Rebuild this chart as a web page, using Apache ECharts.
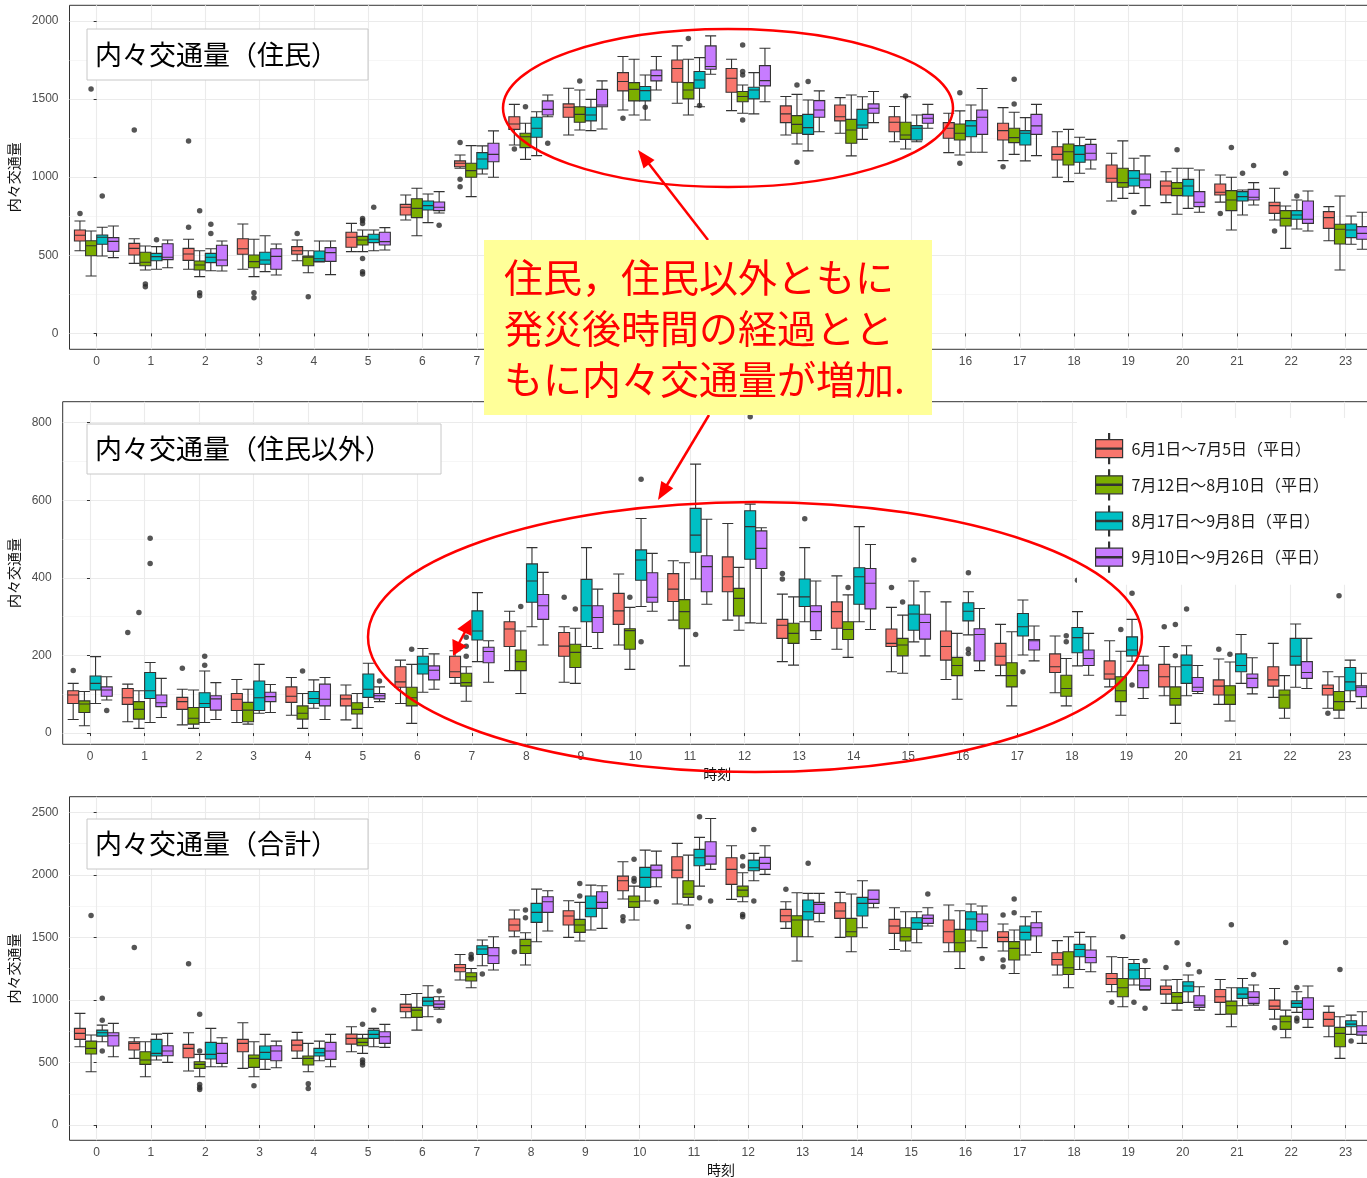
<!DOCTYPE html>
<html>
<head>
<meta charset="utf-8">
<script src="https://cdn.jsdelivr.net/npm/echarts/dist/echarts.min.js"></script>
<style>
html, body { margin: 0; padding: 0; background: #fff; }
#chart { width: 1367px; height: 1178px; }
</style>
</head>
<body>
<div id="chart"></div>
<script>
// 時刻別 内々交通量 の箱ひげ図（住民 / 住民以外 / 合計）

const hours = ['0','1','2','3','4','5','6','7','8','9','10','11','12','13','14','15','16','17','18','19','20','21','22','23'];
const groupNames = ['6月1日～7月5日（平日）', '7月12日～8月10日（平日）', '8月17日～9月8日（平日）', '9月10日～9月26日（平日）'];
const groupColors = ['#F8766D', '#7CAE00', '#00BFC4', '#C77CFF'];

// [min, Q1, median, Q3, max] per hour
const juminA = [[529,591,628,662,719],[448,502,544,576,606],[410,467,508,544,602],[410,506,542,606,700],[465,506,529,555,598],[523,551,615,647,704],[726,758,807,826,886],[1057,1067,1089,1104,1142],[1206,1306,1340,1387,1466],[1270,1383,1447,1469,1569],[1430,1552,1612,1669,1772],[1473,1607,1695,1750,1840],[1426,1543,1633,1695,1755],[1270,1349,1405,1456,1516],[1281,1360,1387,1462,1509],[1227,1291,1351,1387,1452],[1157,1249,1313,1349,1409],[1106,1238,1298,1345,1445],[999,1110,1146,1195,1291],[847,967,993,1078,1153],[837,886,943,975,1035],[840,886,903,956,1014],[726,768,818,839,929],[593,672,741,779,811]];
const juminB = [[367,497,561,593,655],[406,433,455,519,559],[363,406,438,463,529],[363,420,459,502,602],[388,433,487,495,529],[523,566,598,621,662],[625,741,800,862,929],[875,999,1042,1089,1202],[1114,1189,1259,1281,1345],[1302,1351,1402,1451,1558],[1398,1488,1562,1605,1755],[1398,1501,1558,1605,1755],[1409,1483,1516,1548,1590],[1212,1281,1338,1394,1530],[1136,1217,1302,1370,1526],[1180,1242,1270,1351,1515],[1142,1238,1281,1340,1424],[1146,1221,1253,1313,1415],[971,1078,1163,1212,1306],[864,935,965,1057,1232],[762,882,928,965,1057],[662,786,854,914,999],[544,687,736,786,815],[406,572,666,698,879]];
const juminC = [[495,570,615,630,679],[410,465,491,512,555],[401,453,487,512,542],[395,442,470,519,625],[457,461,478,527,591],[529,581,602,634,662],[709,790,818,847,892],[1020,1052,1116,1157,1200],[1138,1255,1313,1383,1419],[1298,1360,1398,1447,1498],[1366,1488,1554,1580,1654],[1451,1569,1622,1676,1765],[1405,1501,1558,1575,1669],[1168,1274,1317,1402,1494],[1242,1313,1334,1434,1515],[1227,1238,1313,1330,1398],[1159,1259,1328,1362,1462],[1104,1206,1281,1298,1381],[1025,1095,1146,1202,1255],[896,943,993,1042,1121],[800,879,943,986,1057],[758,847,875,907,918],[668,730,758,786,854],[570,613,662,700,751]];
const juminD = [[485,525,589,613,687],[420,472,487,574,598],[399,433,470,564,591],[374,410,493,542,572],[376,461,517,549,591],[534,566,587,647,677],[770,786,807,841,907],[999,1099,1146,1217,1296],[1387,1398,1434,1488,1526],[1308,1451,1462,1562,1616],[1558,1616,1650,1686,1772],[1659,1691,1708,1840,1904],[1483,1584,1618,1714,1825],[1291,1383,1430,1490,1552],[1349,1409,1441,1469,1548],[1313,1345,1377,1402,1466],[1159,1274,1383,1430,1567],[1138,1274,1328,1402,1466],[1052,1110,1153,1210,1242],[818,933,982,1020,1136],[775,811,839,907,1046],[822,854,871,922,965],[655,704,730,847,911],[538,602,640,683,775]];
// [hour, group, value]
const juminOut = [[0,0,768],[0,1,1565],[0,2,879],[1,0,1302],[1,1,316],[1,1,299],[1,2,600],[2,0,679],[2,0,1232],[2,1,785],[2,1,260],[2,1,241],[2,2,698],[2,2,640],[3,1,260],[3,1,228],[4,0,640],[4,1,235],[5,1,736],[5,1,722],[5,1,704],[5,1,480],[5,1,395],[5,1,380],[5,2,807],[6,3,692],[7,0,1221],[7,0,986],[7,0,939],[8,0,1180],[8,1,1451],[8,3,1217],[9,1,1616],[10,0,1377],[10,2,1447],[11,1,1887],[11,2,1458],[12,1,1846],[12,1,1676],[12,1,1654],[12,1,1366],[13,1,1590],[13,1,1095],[13,2,1612],[15,1,1520],[16,1,1541],[16,1,1089],[17,0,1067],[17,1,1626],[17,1,1469],[19,2,775],[20,1,1176],[21,0,768],[21,1,1189],[21,2,1025],[21,3,1074],[22,0,655],[22,1,1025],[22,2,879]];

const igaiA = [[35,76,98,109,128],[29,74,91,115,126],[21,61,81,92,113],[27,58,87,102,138],[46,79,95,119,143],[34,70,88,98,124],[76,118,132,171,188],[128,143,158,198,212],[161,223,268,287,314],[131,198,224,259,274],[227,280,315,360,410],[291,339,371,411,444],[291,364,403,454,540],[184,244,278,293,358],[216,270,313,338,405],[158,223,231,268,324],[138,188,223,263,338],[148,175,198,231,280],[104,156,171,204,250],[119,139,152,186,238],[96,119,145,177,223],[74,98,121,137,191],[92,121,137,171,231],[64,98,115,124,158]];
const igaiB = [[19,53,75,83,107],[12,36,61,81,109],[12,23,38,66,111],[23,29,59,79,113],[12,36,51,70,102],[12,49,61,78,102],[25,70,91,118,177],[82,121,130,154,171],[102,161,184,214,263],[128,169,208,229,270],[164,216,264,269,324],[173,269,313,344,439],[265,302,347,373,427],[175,231,257,283,351],[195,241,267,287,356],[154,199,227,244,304],[87,148,174,195,257],[70,119,148,181,261],[70,95,115,149,192],[46,81,109,145,211],[25,72,89,119,171],[31,74,98,122,183],[38,64,98,111,148],[38,59,81,107,145]];
const igaiC = [[76,111,128,147,197],[27,89,109,156,182],[27,66,76,104,160],[51,58,91,134,177],[64,76,89,107,137],[66,92,113,152,180],[105,152,178,198,218],[184,240,263,315,362],[274,337,392,436,478],[223,287,328,396,478],[326,394,446,472,553],[397,466,510,579,693],[284,448,532,573,590],[287,326,351,397,478],[287,332,403,426,532],[235,265,307,330,392],[253,289,314,336,364],[201,250,274,308,343],[173,207,246,272,313],[185,199,214,248,293],[96,128,175,201,225],[128,158,174,204,254],[118,175,198,244,281],[81,109,132,169,188]];
const igaiD = [[85,95,111,119,145],[40,68,78,98,141],[35,59,88,96,130],[53,81,94,105,125],[35,70,87,126,143],[81,88,96,102,119],[113,137,162,173,204],[131,181,210,221,238],[227,293,328,357,414],[218,259,298,328,371],[314,337,350,413,463],[332,364,429,457,551],[283,424,476,521,529],[241,264,313,328,392],[267,320,386,424,486],[199,242,285,306,364],[161,186,254,269,321],[186,214,238,241,276],[149,174,192,214,257],[89,117,161,175,198],[102,107,118,143,174],[101,117,141,152,194],[115,141,156,184,244],[64,94,118,122,154]];
const igaiOut = [[0,0,161],[0,3,58],[1,0,259],[1,1,311],[1,2,502],[1,2,437],[2,0,167],[2,2,198],[2,2,175],[4,1,160],[5,3,134],[6,1,216],[7,1,247],[7,1,224],[7,1,198],[8,1,326],[9,0,350],[9,1,320],[10,1,350],[10,2,654],[10,2,235],[11,2,254],[12,2,815],[13,0,411],[13,0,397],[13,2,552],[14,1,375],[15,0,375],[15,1,338],[15,2,446],[16,2,413],[16,2,216],[16,2,205],[17,2,158],[18,1,251],[18,1,235],[18,2,394],[19,1,267],[19,2,360],[19,2,124],[20,0,274],[20,1,280],[20,1,199],[20,2,320],[21,0,216],[21,1,203],[23,0,51],[23,1,354]];

const goukeiA = [[626,685,733,773,893],[533,600,653,666,698],[432,538,613,645,738],[453,586,653,685,818],[533,592,639,679,741],[586,647,693,727,786],[858,906,941,967,1044],[1159,1226,1258,1284,1364],[1505,1551,1599,1647,1719],[1500,1599,1671,1713,1793],[1807,1873,1953,1990,2105],[1767,1977,2038,2145,2252],[1804,1924,2044,2137,2233],[1572,1625,1673,1724,1785],[1500,1652,1711,1777,1860],[1404,1532,1591,1644,1737],[1386,1457,1545,1639,1759],[1391,1466,1500,1545,1607],[1199,1279,1324,1378,1474],[1066,1124,1172,1212,1346],[973,1047,1084,1111,1159],[885,981,1026,1084,1164],[847,925,951,999,1092],[706,791,845,901,951]];
const goukeiB = [[426,568,613,671,720],[386,485,520,586,666],[386,453,485,506,565],[386,461,533,560,666],[426,480,533,552,653],[573,634,661,693,725],[759,861,919,941,1052],[1098,1151,1186,1218,1252],[1279,1372,1434,1484,1537],[1471,1540,1599,1644,1780],[1639,1740,1785,1831,1910],[1759,1820,1847,1953,2158],[1785,1825,1878,1910,2017],[1311,1505,1639,1673,1857],[1386,1505,1545,1652,1847],[1391,1471,1505,1577,1705],[1252,1386,1457,1564,1713],[1212,1319,1412,1466,1559],[1098,1204,1258,1386,1505],[946,1026,1098,1172,1340],[919,973,1026,1060,1164],[786,887,954,991,1098],[698,765,826,871,919],[533,626,733,781,866]];
const goukeiC = [[666,711,738,759,799],[520,552,573,685,727],[466,528,565,661,773],[445,525,581,632,725],[514,552,578,613,671],[626,693,725,759,773],[866,954,991,1021,1114],[1274,1364,1407,1433,1479],[1465,1620,1700,1772,1886],[1559,1665,1732,1831,1918],[1791,1900,1980,2060,2198],[1910,2073,2137,2204,2300],[1953,2033,2057,2118,2172],[1505,1639,1705,1799,1852],[1577,1671,1772,1820,1953],[1457,1564,1617,1657,1705],[1471,1559,1647,1705,1767],[1359,1479,1540,1591,1665],[1244,1346,1404,1444,1540],[1119,1167,1239,1292,1324],[981,1066,1111,1146,1199],[954,1013,1047,1098,1172],[901,941,973,994,1066],[725,786,807,834,879]];
const goukeiD = [[546,632,714,738,813],[501,554,592,634,733],[466,493,573,653,698],[458,514,592,634,671],[466,525,592,661,725],[621,653,706,746,805],[927,941,967,994,1026],[1239,1292,1354,1418,1505],[1551,1700,1785,1825,1873],[1572,1732,1780,1865,1913],[1905,1977,2038,2078,2190],[2044,2086,2150,2265,2451],[2004,2044,2092,2140,2233],[1625,1692,1764,1780,1852],[1737,1772,1804,1878,1878],[1591,1612,1652,1679,1737],[1418,1551,1625,1687,1751],[1380,1511,1577,1617,1705],[1226,1298,1340,1399,1505],[1079,1084,1111,1172,1252],[919,941,959,1034,1106],[959,973,1021,1066,1119],[781,845,925,1018,1111],[653,719,746,794,906]];
const goukeiOut = [[0,1,1676],[0,2,1013],[0,2,837],[0,2,592],[1,0,1420],[2,0,1290],[2,1,885],[2,1,592],[2,1,325],[2,1,301],[2,1,285],[3,1,314],[4,1,330],[4,1,293],[5,1,805],[5,1,520],[5,1,500],[5,1,480],[5,2,919],[6,3,1071],[6,3,834],[7,1,1364],[7,1,1340],[7,1,1327],[7,2,1207],[8,0,1386],[8,1,1719],[8,1,1657],[9,1,1932],[9,1,1831],[10,0,1665],[10,0,1633],[10,1,2124],[10,1,1972],[10,1,1950],[10,3,1785],[11,1,1585],[11,2,2465],[11,2,1817],[11,3,1791],[12,1,2145],[12,1,2070],[12,1,1684],[12,1,1665],[12,2,2363],[12,2,1791],[13,0,1886],[13,2,2092],[15,3,1847],[16,3,1332],[17,0,1679],[17,0,1319],[17,0,1266],[17,1,1807],[17,1,1697],[19,0,981],[19,1,1505],[19,2,981],[19,3,1314],[19,3,933],[20,0,1260],[20,1,1458],[20,2,1284],[20,3,1226],[21,1,1601],[21,3,1204],[22,0,778],[22,1,1460],[22,2,1100],[22,2,853],[22,2,831],[23,1,1244],[23,2,671]];

const CJK = "'Noto Sans CJK JP', sans-serif";
const LAT = "'Liberation Sans', Arial, sans-serif";

// boxplot dodge offsets in category units (matches echarts boxplot layout for 4 series)
const dodge = [-0.307, -0.103, 0.103, 0.307];

const panels = [
    { boxes: [juminA, juminB, juminC, juminD], out: juminOut, left: 69.5, top: 5.3, width: 1303.2, height: 344, min: -102, max: 2100, xName: '', yGap: 45 },
    { boxes: [igaiA, igaiB, igaiC, igaiD], out: igaiOut, left: 62.7, top: 401.7, width: 1309.2, height: 342.6, min: -29, max: 854, xName: '時刻', yGap: 39 },
    { boxes: [goukeiA, goukeiB, goukeiC, goukeiD], out: goukeiOut, left: 69.5, top: 796.7, width: 1303.2, height: 343.6, min: -122, max: 2625, xName: '時刻', yGap: 45 }
];

const grids = [], xAxes = [], yAxes = [], series = [];

panels.forEach((p, i) => {
    grids.push({
        left: p.left, top: p.top, width: p.width, height: p.height,
        containLabel: false, outerBoundsMode: 'none',
        show: true, backgroundColor: '#fff', borderColor: '#333', borderWidth: 1
    });
    xAxes.push({
        gridIndex: i, type: 'category', data: hours, position: 'bottom',
        axisLine: { show: false },
        axisTick: { show: true, alignWithLabel: true, length: 3, lineStyle: { color: '#333' } },
        axisLabel: { show: true, interval: 0, margin: 6, color: '#4d4d4d', fontSize: 12, fontFamily: LAT },
        splitLine: { show: false },
        name: p.xName, nameLocation: 'middle', nameGap: 22,
        nameTextStyle: { color: '#111', fontSize: 14, fontFamily: CJK }
    });
    // hidden value axis: vertical grid lines at hour centres and outlier positions
    xAxes.push({
        gridIndex: i, type: 'value', position: 'top', min: -0.5, max: 23.5, minInterval: 1, maxInterval: 1,
        axisLine: { show: false }, axisTick: { show: false }, axisLabel: { show: false },
        splitLine: { show: true, showMinLine: false, showMaxLine: false, lineStyle: { color: '#ebebeb', width: 1.1 } }
    });
    yAxes.push({
        gridIndex: i, type: 'value', min: p.min, max: p.max,
        axisLine: { show: false },
        axisTick: { show: true, length: 3, lineStyle: { color: '#333' } },
        axisLabel: { margin: 11, color: '#4d4d4d', fontSize: 12, fontFamily: LAT, showMinLabel: false, showMaxLabel: false,
            formatter: v => String(v) },
        splitLine: { show: true, showMinLine: false, showMaxLine: false, lineStyle: { color: '#ebebeb', width: 1.1 } },
        minorTick: { show: false, splitNumber: 2 },
        minorSplitLine: { show: true, lineStyle: { color: '#f2f2f2', width: 0.7 } },
        name: '内々交通量', nameLocation: 'middle', nameRotate: 90, nameGap: p.yGap,
        nameTextStyle: { color: '#111', fontSize: 14, fontFamily: CJK }
    });
    p.boxes.forEach((b, g) => {
        series.push({
            type: 'boxplot', name: groupNames[g], xAxisIndex: i * 2, yAxisIndex: i,
            data: b, boxWidth: [11, 11], silent: true, z: 3,
            itemStyle: { color: groupColors[g], borderColor: '#333', borderWidth: 1.1 },
            emphasis: { disabled: true }
        });
    });
    series.push({
        type: 'scatter', name: 'outlier', xAxisIndex: i * 2 + 1, yAxisIndex: i,
        data: p.out.map(o => [o[0] + dodge[o[1]], o[2]]),
        symbolSize: 5.5, silent: true, z: 4,
        itemStyle: { color: '#2b2b2b' }
    });
});

function arrowHead(tx, ty, fx, fy, len, half) {
    const dx = tx - fx, dy = ty - fy, d = Math.hypot(dx, dy);
    const ux = dx / d, uy = dy / d;
    const bx = tx - ux * len, by = ty - uy * len;
    return [[tx, ty], [bx - uy * half, by + ux * half], [bx + uy * half, by - ux * half]];
}

const RED = '#ff0000';
const red = { stroke: RED, lineWidth: 2.5, fill: 'none' };

function titleBox(x, y, w, h, text) {
    return [
        { type: 'rect', z: 50, shape: { x: x, y: y, width: w, height: h }, style: { fill: '#fff', stroke: '#c8c8c8', lineWidth: 1 } },
        { type: 'text', z: 51, x: x + 8, y: y + h / 2, style: { text: text, fill: '#000', fontSize: 27, fontFamily: CJK, verticalAlign: 'middle', align: 'left' } }
    ];
}

const graphics = [].concat(
    titleBox(87, 29, 281, 51, '内々交通量（住民）'),
    titleBox(87, 424, 354, 50, '内々交通量（住民以外）'),
    titleBox(87, 819, 281, 50, '内々交通量（合計）'),
    [
        { type: 'ellipse', z: 60, shape: { cx: 728, cy: 108, rx: 225, ry: 79 }, style: red },
        { type: 'ellipse', z: 60, shape: { cx: 755, cy: 637, rx: 387, ry: 135 }, style: red },
        { type: 'rect', z: 70, shape: { x: 484, y: 240, width: 448, height: 175 }, style: { fill: '#ffff99' } },
        { type: 'text', z: 71, x: 504, y: 252, style: {
            text: '住民，住民以外ともに\n発災後時間の経過とと\nもに内々交通量が増加.',
            fill: RED, fontSize: 39, lineHeight: 51, fontFamily: CJK, verticalAlign: 'top', align: 'left' } },
        { type: 'line', z: 60, shape: { x1: 708, y1: 240, x2: 646, y2: 160 }, style: red },
        { type: 'polygon', z: 60, shape: { points: arrowHead(638, 150, 708, 240, 18, 7) }, style: { fill: RED } },
        { type: 'line', z: 60, shape: { x1: 709, y1: 415, x2: 664, y2: 490 }, style: red },
        { type: 'polygon', z: 60, shape: { points: arrowHead(658, 500, 709, 415, 18, 7) }, style: { fill: RED } },
        { type: 'line', z: 60, shape: { x1: 466, y1: 630, x2: 458, y2: 645 }, style: red },
        { type: 'polygon', z: 60, shape: { points: arrowHead(471, 619, 453, 656, 15, 8) }, style: { fill: RED } },
        { type: 'polygon', z: 60, shape: { points: arrowHead(453, 656, 471, 619, 15, 8) }, style: { fill: RED } }
    ]
);

const chart = echarts.init(document.getElementById('chart'), null, { renderer: 'canvas' });
chart.setOption({
    animation: false,
    backgroundColor: '#fff',
    grid: grids,
    xAxis: xAxes,
    yAxis: yAxes,
    legend: {
        data: groupNames.map((n, g) => ({
            name: n,
            itemStyle: { color: groupColors[g], borderColor: '#333', borderWidth: 1.2 }
        })),
        orient: 'vertical', left: 1077, top: 418,
        padding: [15, 40, 12, 18], itemGap: 5, itemWidth: 27, itemHeight: 30,
        icon: 'path://M0,6H27V24H0Z M0,14.4H27V15.6H0Z M13,0H14V6H13Z M13,24H14V30H13Z',
        backgroundColor: '#fff', selectedMode: false, z: 20,
        textStyle: { fontSize: 16, color: '#1a1a1a', fontFamily: CJK, padding: [0, 0, 0, 4] }
    },
    series: series,
    graphic: { elements: graphics }
});
</script>
</body>
</html>
